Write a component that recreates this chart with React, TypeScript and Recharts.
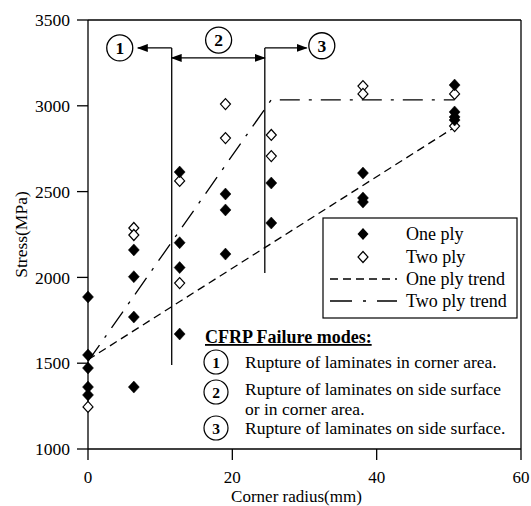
import React from 'react';
import {
  ComposedChart,
  Scatter,
  Line,
  XAxis,
  YAxis,
  ReferenceLine,
  ReferenceDot,
  Label,
} from 'recharts';

const FONT = '"Liberation Serif", "Times New Roman", Times, serif';

const xTicks = [0, 20, 40, 60];
const yTicks = [1000, 1500, 2000, 2500, 3000, 3500];

const onePly = [
  { x: 0, y: 1886 }, { x: 0, y: 1548 }, { x: 0, y: 1472 }, { x: 0, y: 1361 }, { x: 0, y: 1315 },
  { x: 6.35, y: 2160 }, { x: 6.35, y: 2004 }, { x: 6.35, y: 1769 }, { x: 6.35, y: 1361 },
  { x: 12.7, y: 2614 }, { x: 12.7, y: 2202 }, { x: 12.7, y: 2057 }, { x: 12.7, y: 1670 },
  { x: 19.05, y: 2486 }, { x: 19.05, y: 2393 }, { x: 19.05, y: 2136 },
  { x: 25.4, y: 2550 }, { x: 25.4, y: 2317 },
  { x: 38.1, y: 2608 }, { x: 38.1, y: 2463 }, { x: 38.1, y: 2439 },
  { x: 50.8, y: 3121 }, { x: 50.8, y: 2964 }, { x: 50.8, y: 2935 }, { x: 50.8, y: 2917 },
];

const twoPly = [
  { x: 0, y: 1245 },
  { x: 6.35, y: 2288 }, { x: 6.35, y: 2247 },
  { x: 12.7, y: 2562 }, { x: 12.7, y: 1967 },
  { x: 19.05, y: 3010 }, { x: 19.05, y: 2812 },
  { x: 25.4, y: 2830 }, { x: 25.4, y: 2707 },
  { x: 38.1, y: 3115 }, { x: 38.1, y: 3069 },
  { x: 50.8, y: 3069 }, { x: 50.8, y: 2882 },
];

const onePlyTrend = [
  { x: 0, y: 1520 },
  { x: 50.8, y: 2875 },
];

const twoPlyTrend = [
  { x: 0, y: 1510 },
  { x: 25.4, y: 3035 },
  { x: 50.8, y: 3035 },
];

// failure-mode zone annotations (data coordinates)
const zoneBoundaries = [
  { x: 11.6, yLow: 1490, yHigh: 3337 },
  { x: 24.5, yLow: 2026, yHigh: 3337 },
];
const zoneArrows = [
  { x1: 11.6, x2: 6.9, y: 3337, double: false },
  { x1: 11.6, x2: 24.5, y: 3279, double: true },
  { x1: 24.5, x2: 30.3, y: 3337, double: false },
];
const zoneLabels = [
  { label: '1', x: 4.4, y: 3337 },
  { label: '2', x: 18.1, y: 3383 },
  { label: '3', x: 32.4, y: 3350 },
];

const legendItems = ['One ply', 'Two ply', 'One ply trend', 'Two ply trend'];
const modeTitle = 'CFRP Failure modes:';
const modeItems = [
  { n: '1', lines: ['Rupture of laminates in corner area.'] },
  { n: '2', lines: ['Rupture of laminates on side surface', 'or in corner area.'] },
  { n: '3', lines: ['Rupture of laminates on side surface.'] },
];

const ONE_DASH = '8 5';
const TWO_DASH = '20 9 3 9';

const filledDiamond = (props: any) => {
  const { cx, cy } = props;
  if (cx == null || cy == null) return <g />;
  return (
    <path
      d={`M${cx},${cy - 6} L${cx + 5.5},${cy} L${cx},${cy + 6} L${cx - 5.5},${cy} Z`}
      fill="#000"
      stroke="#000"
      strokeWidth={0.5}
    />
  );
};

const openDiamond = (props: any) => {
  const { cx, cy } = props;
  if (cx == null || cy == null) return <g />;
  return (
    <path
      d={`M${cx},${cy - 5.5} L${cx + 5},${cy} L${cx},${cy + 5.5} L${cx - 5},${cy} Z`}
      fill="#fff"
      stroke="#000"
      strokeWidth={1.2}
    />
  );
};

export default function App() {
  const legendRows = [234, 257, 279, 301];
  const modeY = [{ c: 362, base: [368] }, { c: 392, base: [395, 414.5] }, { c: 428, base: [434] }];
  return (
    <div style={{ position: 'absolute', left: 0, top: 0, width: 531, height: 506, background: '#fff' }}>
      <ComposedChart
        width={531}
        height={506}
        margin={{ top: 20, right: 10, left: 0, bottom: 0 }}
        style={{ fontFamily: FONT }}
      >
        <XAxis
          dataKey="x"
          type="number"
          domain={[0, 60]}
          ticks={xTicks}
          height={57}
          tickSize={11}
          tickMargin={11}
          axisLine={{ stroke: '#000', strokeWidth: 1.3 }}
          tickLine={{ stroke: '#000', strokeWidth: 1.3 }}
          tick={{ fill: '#000', fontSize: 17, fontFamily: FONT }}
        >
          <Label
            value="Corner radius(mm)"
            position="insideBottom"
            offset={4}
            dx={-8}
            style={{ fill: '#000', fontSize: 17, fontFamily: FONT }}
          />
        </XAxis>
        <YAxis
          dataKey="y"
          type="number"
          domain={[1000, 3500]}
          ticks={yTicks}
          width={88}
          tickSize={11}
          tickMargin={7}
          axisLine={{ stroke: '#000', strokeWidth: 1.3 }}
          tickLine={{ stroke: '#000', strokeWidth: 1.3 }}
          tick={{ fill: '#000', fontSize: 17.5, fontFamily: FONT }}
        >
          <Label
            content={(p: any) => {
              const vb = p.viewBox || { x: 0, y: 20, width: 88, height: 429 };
              const x = vb.x + 21;
              const y = vb.y + vb.height / 2;
              return (
                <text
                  x={x}
                  y={y}
                  transform={`rotate(-90, ${x}, ${y})`}
                  textAnchor="middle"
                  dominantBaseline="central"
                  fill="#000"
                  fontSize={17.5}
                  fontFamily={FONT}
                >
                  Stress(MPa)
                </text>
              );
            }}
          />
        </YAxis>

        <ReferenceLine y={3500} stroke="#000" strokeWidth={1.3} ifOverflow="visible" />
        <ReferenceLine x={60} stroke="#000" strokeWidth={1.3} ifOverflow="visible" />

        {zoneBoundaries.map((b, i) => (
          <ReferenceLine
            key={`zb${i}`}
            segment={[{ x: b.x, y: b.yLow }, { x: b.x, y: b.yHigh }]}
            stroke="#000"
            strokeWidth={1.3}
            ifOverflow="visible"
          />
        ))}
        {zoneArrows.map((a, i) => (
          <ReferenceLine
            key={`za${i}`}
            segment={[{ x: a.x1, y: a.y }, { x: a.x2, y: a.y }]}
            ifOverflow="visible"
            shape={(p: any) => (
              <line
                x1={p.x1}
                y1={p.y1}
                x2={p.x2}
                y2={p.y2}
                stroke="#000"
                strokeWidth={1.3}
                markerEnd="url(#arrowHead)"
                markerStart={a.double ? 'url(#arrowHead)' : undefined}
              />
            )}
          />
        ))}

        <Line
          data={onePlyTrend}
          dataKey="y"
          type="linear"
          stroke="#000"
          strokeWidth={1.3}
          strokeDasharray={ONE_DASH}
          dot={false}
          activeDot={false}
          isAnimationActive={false}
        />
        <Line
          data={twoPlyTrend}
          dataKey="y"
          type="linear"
          stroke="#000"
          strokeWidth={1.3}
          strokeDasharray={TWO_DASH}
          dot={false}
          activeDot={false}
          isAnimationActive={false}
        />

        <Scatter data={twoPly} dataKey="y" shape={openDiamond} isAnimationActive={false} />
        <Scatter data={onePly} dataKey="y" shape={filledDiamond} isAnimationActive={false} />

        {zoneLabels.map((z, i) => (
          <ReferenceDot
            key={`zl${i}`}
            x={z.x}
            y={z.y}
            r={13}
            ifOverflow="visible"
            shape={(p: any) => (
              <g>
                <circle cx={p.cx} cy={p.cy} r={13} fill="#fff" stroke="#000" strokeWidth={1.3} />
                <text
                  x={p.cx}
                  y={p.cy + 6}
                  textAnchor="middle"
                  fontSize={17.5}
                  fontWeight="bold"
                  fontFamily={FONT}
                  fill="#000"
                >
                  {z.label}
                </text>
              </g>
            )}
          />
        ))}
      </ComposedChart>

      <svg
        width={531}
        height={506}
        style={{ position: 'absolute', left: 0, top: 0, pointerEvents: 'none' }}
      >
        <defs>
          <marker
            id="arrowHead"
            markerWidth={11}
            markerHeight={8}
            refX={10}
            refY={4}
            orient="auto-start-reverse"
            markerUnits="userSpaceOnUse"
          >
            <path d="M0,0 L11,4 L0,8 Z" fill="#000" />
          </marker>
        </defs>

        <g fontFamily={FONT} fontSize={18} fill="#000">
          <rect x={323} y={218} width={194} height={100} fill="#fff" stroke="#000" strokeWidth={1.2} />
          <path d={`M363,${legendRows[0] - 6} L368.5,${legendRows[0]} L363,${legendRows[0] + 6} L357.5,${legendRows[0]} Z`} fill="#000" />
          <path
            d={`M363,${legendRows[1] - 5.5} L368,${legendRows[1]} L363,${legendRows[1] + 5.5} L358,${legendRows[1]} Z`}
            fill="#fff"
            stroke="#000"
            strokeWidth={1.2}
          />
          <line x1={330} y1={legendRows[2]} x2={397} y2={legendRows[2]} stroke="#000" strokeWidth={1.3} strokeDasharray={ONE_DASH} />
          <line x1={330} y1={legendRows[3]} x2={397} y2={legendRows[3]} stroke="#000" strokeWidth={1.3} strokeDasharray="22 11 3 11" />
          {legendItems.map((t, i) => (
            <text key={t} x={406} y={legendRows[i] + 6}>
              {t}
            </text>
          ))}

          <text x={205} y={343} fontWeight="bold" textDecoration="underline">
            {modeTitle}
          </text>
          {modeItems.map((m, i) => (
            <g key={m.n}>
              <circle cx={216} cy={modeY[i].c} r={12} fill="#fff" stroke="#000" strokeWidth={1.2} />
              <text x={216} y={modeY[i].c + 5.5} textAnchor="middle" fontWeight="bold" fontSize={15.5}>
                {m.n}
              </text>
              {m.lines.map((l, j) => (
                <text key={j} x={245} y={modeY[i].base[j]} fontSize={17.5}>
                  {l}
                </text>
              ))}
            </g>
          ))}
        </g>
      </svg>
    </div>
  );
}
